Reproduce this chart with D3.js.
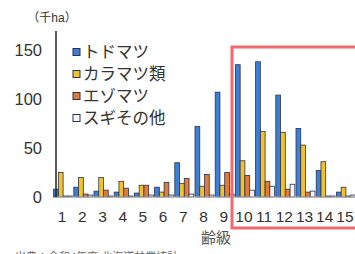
<!DOCTYPE html>
<html>
<head>
<meta charset="utf-8">
<script src="https://cdn.jsdelivr.net/npm/d3@7"></script>
<style>
  body { margin: 0; background: #fff; }
  text { font-family: "Liberation Sans", Arial, "Noto Sans CJK JP", sans-serif; }
</style>
</head>
<body>
<div id="chart"></div>
<script>
// age classes and area (thousand ha) per species
const ageClasses = ["1","2","3","4","5","6","7","8","9","10","11","12","13","14","15"];
const todomatsu = [8, 10, 6, 5, 4, 10, 35, 72, 107, 135, 138, 104, 70, 27, 5];
const karamatsu = [25, 20, 20, 16, 12, 5, 14, 11, 12, 37, 67, 66, 53, 36, 10];
const ezomatsu  = [1, 3, 7, 9, 12, 15, 19, 23, 25, 22, 16, 8, 5, 1, 1];
const sugi      = [1, 2, 1, 1, 2, 2, 3, 2, 3, 7, 11, 13, 6, 1, 2];
const seriesNames = ["トドマツ", "カラマツ類", "エゾマツ", "スギその他"];
const seriesColors = ["#3d7fd6", "#f2c228", "#e37b35", "#f7f3f6"];
const yTicks = [0, 50, 100, 150];

const width = 355, height = 254;
const svg = d3.select("#chart").append("svg")
  .attr("width", width).attr("height", height);

const series = [todomatsu, karamatsu, ezomatsu, sugi];
const data = ageClasses.map((c, i) => ({ c: c, vals: series.map(s => s[i]) }));

const x = d3.scaleBand().domain(ageClasses).range([53, 53 + 15 * 20.2]).paddingInner(0.06).paddingOuter(0.03);
const xs = d3.scaleBand().domain(d3.range(4)).range([0, x.bandwidth()]);
const y = d3.scaleLinear().domain([0, 150]).range([197, 50]);

// bars
const groups = svg.append("g").selectAll("g")
  .data(data).enter().append("g")
  .attr("transform", d => `translate(${x(d.c)},0)`);

groups.selectAll("rect")
  .data(d => d.vals)
  .enter().append("rect")
  .attr("x", (v, j) => xs(j))
  .attr("width", xs.bandwidth())
  .attr("y", v => y(v))
  .attr("height", v => y(0) - y(v))
  .attr("fill", (v, j) => seriesColors[j])
  .attr("stroke", "#2a3350")
  .attr("stroke-width", 0.8);

// baseline
svg.append("line")
  .attr("x1", 56).attr("x2", width)
  .attr("y1", y(0)).attr("y2", y(0))
  .attr("stroke", "#bbb").attr("stroke-width", 1);

// y axis
svg.append("line")
  .attr("x1", 56).attr("x2", 56)
  .attr("y1", 31).attr("y2", y(0))
  .attr("stroke", "#222").attr("stroke-width", 1.5);

svg.append("g").selectAll("text")
  .data(yTicks).enter().append("text")
  .attr("x", 42).attr("y", d => y(d))
  .attr("dy", "0.35em")
  .attr("text-anchor", "end")
  .attr("font-size", 16.5)
  .attr("fill", "#333")
  .text(d => d);

svg.append("text")
  .attr("x", 52).attr("y", 22)
  .attr("text-anchor", "middle")
  .attr("font-size", 12)
  .attr("fill", "#333")
  .text("（千ha）");

// x labels
svg.append("g").selectAll("text")
  .data(ageClasses).enter().append("text")
  .attr("x", d => x(d) + x.bandwidth() / 2 - 1)
  .attr("y", 222)
  .attr("text-anchor", "middle")
  .attr("font-size", 15.5)
  .attr("fill", "#333")
  .text(d => d);

svg.append("text")
  .attr("x", 216).attr("y", 243)
  .attr("text-anchor", "middle")
  .attr("font-size", 15)
  .attr("fill", "#555")
  .text("齢級");

svg.append("text")
  .attr("x", 15).attr("y", 261)
  .attr("font-size", 11)
  .attr("fill", "#666")
  .text("出典：令和4年度 北海道林業統計");

// legend
const legend = svg.append("g").selectAll("g")
  .data(seriesNames).enter().append("g")
  .attr("transform", (d, i) => `translate(73,${52 + i * 22})`);

legend.append("rect")
  .attr("x", 0).attr("y", -3.5)
  .attr("width", 7).attr("height", 7)
  .attr("fill", (d, i) => seriesColors[i])
  .attr("stroke", "#2a3350").attr("stroke-width", 1);

legend.append("text")
  .attr("x", 10).attr("dy", "0.36em")
  .attr("font-size", 16.5)
  .attr("fill", "#333")
  .text(d => d);

// highlight frame
svg.append("rect")
  .attr("x", 232).attr("y", 47)
  .attr("width", 140).attr("height", 181)
  .attr("fill", "none")
  .attr("stroke", "#f06a6e").attr("stroke-width", 3);
</script>
</body>
</html>
